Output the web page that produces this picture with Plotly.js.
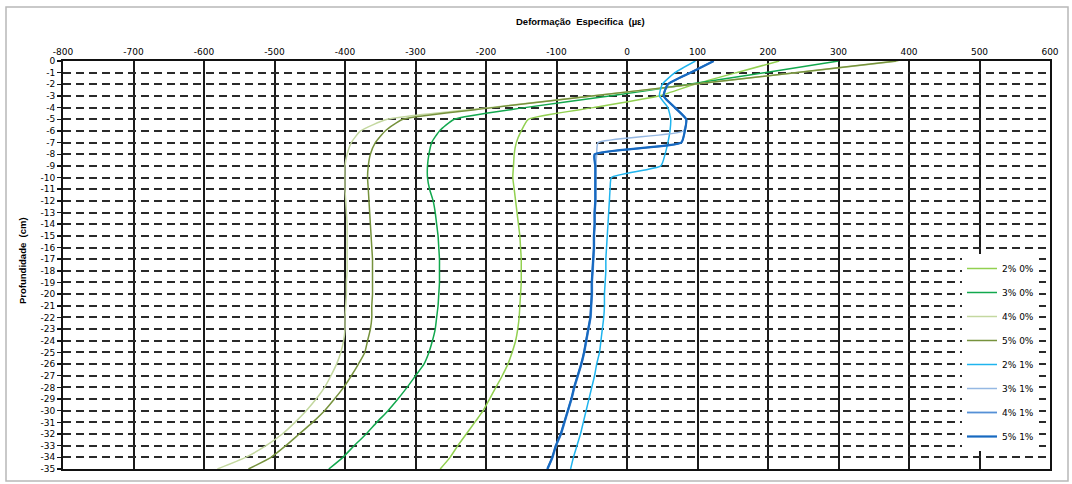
<!DOCTYPE html>
<html>
<head>
<meta charset="utf-8">
<script src="https://cdn.plot.ly/plotly-3.0.1.min.js"></script>
<style>
  html, body { margin: 0; padding: 0; background: #fff; }
  #chart { width: 1072px; height: 484px; }
</style>
</head>
<body>
<div id="chart"></div>
<script>
// Depth (cm)
const depth = [0,-1,-2,-3,-4,-5,-6,-7,-8,-9,-10,-11,-12,-13,-14,-15,-16,-17,-18,-19,-20,-21,-22,-23,-24,-25,-26,-27,-28,-29,-30,-31,-32,-33,-34,-35];

// Series names
const seriesNames = ["2% 0%", "3% 0%", "4% 0%", "5% 0%", "2% 1%", "3% 1%", "4% 1%", "5% 1%"];

// Strain values (µε) at each depth
const s2_0 = [216,155,96,45,-48,-140,-150,-157,-160,-161,-162,-160,-158,-156,-154,-152,-151,-150,-150,-150,-151,-152,-153,-155,-158,-163,-169,-177,-186,-195,-204,-216,-228,-240,-251,-265];
const s3_0 = [300,195,88,-25,-145,-245,-266,-277,-281,-283,-283,-280,-275,-272,-270,-268,-267,-266,-266,-266,-267,-268,-270,-272,-276,-281,-288,-300,-312,-325,-339,-355,-370,-387,-403,-423];
const s4_0 = [385,240,95,-50,-195,-340,-378,-391,-397,-400,-400,-400,-399,-398,-397,-397,-397,-397,-397,-398,-398,-399,-400,-400,-402,-406,-412,-420,-429,-441,-455,-471,-489,-512,-541,-581];
const s5_0 = [382,238,94,-50,-190,-318,-343,-357,-364,-367,-368,-367,-366,-365,-364,-363,-362,-361,-361,-361,-361,-362,-362,-364,-368,-372,-381,-391,-402,-415,-429,-446,-465,-484,-505,-537];
const s2_1 = [97,68,50,46,58,62,61,58,54,48,-22,-24,-25,-26,-27,-28,-29,-30,-30,-31,-32,-32,-33,-35,-37,-39,-43,-46,-50,-54,-58,-62,-66,-71,-76,-80];
const s3_1 = [123,90,58,52,68,84,80,-41,-43,-44,-44,-44,-44,-45,-45,-46,-46,-47,-48,-49,-49,-50,-51,-54,-57,-60,-64,-69,-74,-78,-83,-88,-93,-100,-105,-112];
const s4_1 = [123,90,58,52,68,84,82,77,-45,-45,-45,-45,-45,-46,-46,-47,-47,-48,-49,-50,-50,-51,-52,-55,-58,-61,-65,-70,-75,-79,-84,-89,-94,-101,-106,-113];
const s5_1 = [123,90,58,52,68,84,82,77,-46,-45,-45,-45,-45,-46,-46,-47,-47,-48,-49,-50,-50,-51,-52,-55,-58,-61,-65,-70,-75,-79,-84,-89,-94,-101,-106,-113];

// Tick labels
const xTickVals = [-800,-700,-600,-500,-400,-300,-200,-100,0,100,200,300,400,500,600];
const xTickText = ["-800","-700","-600","-500","-400","-300","-200","-100","0","100","200","300","400","500","600"];
const yTickVals = [0,-1,-2,-3,-4,-5,-6,-7,-8,-9,-10,-11,-12,-13,-14,-15,-16,-17,-18,-19,-20,-21,-22,-23,-24,-25,-26,-27,-28,-29,-30,-31,-32,-33,-34,-35];
const yTickText = ["0","-1","-2","-3","-4","-5","-6","-7","-8","-9","-10","-11","-12","-13","-14","-15","-16","-17","-18","-19","-20","-21","-22","-23","-24","-25","-26","-27","-28","-29","-30","-31","-32","-33","-34","-35"];

const seriesValues = [s2_0, s3_0, s4_0, s5_0, s2_1, s3_1, s4_1, s5_1];
const colors = ["#92d050", "#12a84e", "#c4d8a0", "#76923c", "#1fb4ee", "#95b8e3", "#5590d6", "#1769c0"];
const widths = [1.5, 1.5, 1.5, 1.5, 1.5, 1.5, 1.8, 2.2];

const traces = seriesValues.map((vals, i) => ({
  type: "scatter",
  mode: "lines",
  name: seriesNames[i],
  legendgroup: "g" + i,
  x: vals,
  y: depth,
  line: { color: colors[i], width: widths[i], shape: "spline", smoothing: 0.5 },
  hoverinfo: "x+y+name"
}));

const W = 1072, H = 484;
const L = 63, R = 22, T = 61, B = 15;
const pw = W - L - R, ph = H - T - B;
const px = v => (v - L) / pw;
const py = v => (H - B - v) / ph;

const layout = {
  width: W, height: H,
  margin: { l: L, r: R, t: T, b: B, pad: 0 },
  paper_bgcolor: "#fff",
  plot_bgcolor: "#fff",
  showlegend: true,
  font: { family: "DejaVu Sans, Verdana, sans-serif", size: 9, color: "#000" },
  xaxis: {
    side: "top",
    range: [-800, 600],
    tickmode: "array", tickvals: xTickVals, ticktext: xTickText,
    showgrid: true, gridcolor: "#1a1a1a", gridwidth: 2,
    zeroline: false,
    showline: true, linecolor: "#111", linewidth: 2, mirror: true,
    ticks: "", ticklen: 0,
    tickfont: { family: "DejaVu Sans, Verdana, sans-serif", size: 9, color: "#000" },
    fixedrange: true
  },
  yaxis: {
    range: [-35, 0],
    tickmode: "array", tickvals: yTickVals, ticktext: yTickText,
    showgrid: true, gridcolor: "#2a2a2a", gridwidth: 2, griddash: "8px,5px",
    zeroline: false,
    showline: true, linecolor: "#111", linewidth: 2, mirror: true,
    ticks: "outside", ticklen: 4, tickwidth: 1.5, tickcolor: "#111",
    tickfont: { family: "DejaVu Sans, Verdana, sans-serif", size: 9, color: "#000" },
    fixedrange: true
  },
  legend: {
    x: px(962), y: py(254), xanchor: "left", yanchor: "top",
    bgcolor: "#fff", borderwidth: 0,
    font: { family: "DejaVu Sans, Verdana, sans-serif", size: 9, color: "#000" },
    itemwidth: 30, tracegroupgap: 5,
    traceorder: "grouped"
  },
  annotations: [
    {
      text: "<b>Deformação  Especifica  (µε)</b>",
      xref: "paper", yref: "paper", x: px(580), y: py(22),
      xanchor: "center", yanchor: "middle", showarrow: false,
      font: { family: "Liberation Sans, Arial, sans-serif", size: 9.5, color: "#000" }
    },
    {
      text: "<b>Profundidade  (cm)</b>",
      xref: "paper", yref: "paper", x: px(22), y: py(261),
      xanchor: "center", yanchor: "middle", showarrow: false, textangle: -90,
      font: { family: "Liberation Sans, Arial, sans-serif", size: 9.5, color: "#000" }
    }
  ],
  shapes: [
    {
      type: "rect", xref: "paper", yref: "paper",
      x0: px(6), x1: px(1068), y0: py(481), y1: py(7),
      line: { color: "#b8b8b8", width: 1.5 }, layer: "below"
    }
  ]
};

Plotly.newPlot("chart", traces, layout, { displayModeBar: false, staticPlot: true });
</script>
</body>
</html>
